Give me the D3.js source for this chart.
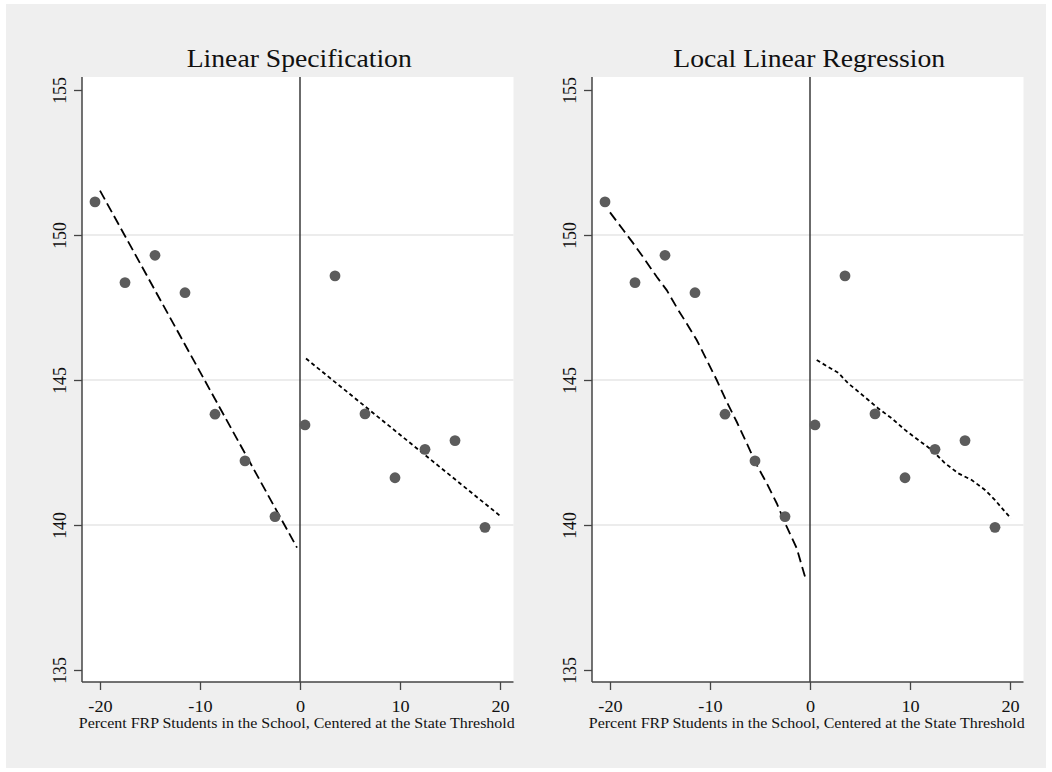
<!DOCTYPE html>
<html>
<head>
<meta charset="utf-8">
<script src="https://cdn.jsdelivr.net/npm/d3@7"></script>
<style>
  html, body { margin: 0; padding: 0; background: #ffffff; }
  svg { display: block; }
  text { font-family: "Liberation Serif", "Times New Roman", serif; fill: #111; }
</style>
</head>
<body>
<svg id="chart" width="1052" height="772"></svg>
<script>
// ---------------- DATA ----------------
const panelTitles = ["Linear Specification", "Local Linear Regression"];
const xAxisTitle = "Percent FRP Students in the School, Centered at the State Threshold";
const xTickValues = [-20, -10, 0, 10, 20];
const xTickLabels = ["-20", "-10", "0", "10", "20"];
const yTickValues = [135, 140, 145, 150, 155];
const yTickLabels = ["135", "140", "145", "150", "155"];
const gridValues = [140, 145, 150];

// binned means (same in both panels)
const binX = [-20.5, -17.5, -14.5, -11.5, -8.5, -5.5, -2.5, 0.5, 3.5, 6.5, 9.5, 12.5, 15.5, 18.5];
const binY = [151.14, 148.36, 149.30, 148.01, 143.82, 142.21, 140.29, 143.45, 148.59, 143.83, 141.63, 142.61, 142.91, 139.92];

// linear specification fits
const linLeftX = [-20, -0.3];
const linLeftY = [151.53, 139.22];
const linRightX = [0.6, 20.1];
const linRightY = [145.74, 140.29];

// local linear regression fits
const llrLeftX = [-20, -18.67, -17.67, -16.67, -15.33, -14.33, -13.17, -12.33, -11.33, -10.33, -9.33, -8.33, -7.33, -6.33, -5.33, -4.33, -3.33, -2.33, -1.33, -0.4];
const llrLeftY = [150.78, 150.17, 149.71, 149.23, 148.56, 148.10, 147.41, 146.95, 146.38, 145.69, 145.00, 144.25, 143.56, 142.82, 142.07, 141.44, 140.75, 139.94, 139.20, 138.10];
const llrRightX = [0.67, 1.67, 2.83, 3.83, 4.83, 5.83, 6.83, 8.17, 9.5, 10.83, 12.17, 13.5, 14.83, 16.17, 17.5, 18.5, 19.5, 20.1];
const llrRightY = [145.69, 145.48, 145.25, 144.88, 144.60, 144.31, 144.02, 143.68, 143.28, 142.93, 142.59, 142.13, 141.78, 141.55, 141.21, 140.86, 140.46, 140.23];

// ---------------- LAYOUT ----------------
const svg = d3.select("#chart");
const W = 1052, H = 772;
svg.append("rect").attr("x", 6).attr("y", 4).attr("width", W - 12).attr("height", H - 8).attr("fill", "#efefef");

const plotLeft = 82, plotRight = 513.5, plotTop = 77, plotBottom = 682;
const panelOffset = 510;

const x = d3.scaleLinear().domain([-21.8, 21.35]).range([plotLeft, plotRight]);
const y = d3.scaleLinear().domain([135, 155]).range([670, 90]);

function fitWidth(sel, factor) {
  sel.each(function () {
    const len = this.getComputedTextLength();
    d3.select(this).attr("textLength", len * factor).attr("lengthAdjust", "spacingAndGlyphs");
  });
}

const fits = [
  [{xs: linLeftX, ys: linLeftY, dash: "10,4.5"}, {xs: linRightX, ys: linRightY, dash: "4,3"}],
  [{xs: llrLeftX, ys: llrLeftY, dash: "10,5"}, {xs: llrRightX, ys: llrRightY, dash: "4,3"}]
];

panelTitles.forEach((title, pi) => {
  const g = svg.append("g").attr("transform", `translate(${pi * panelOffset},0)`);

  // plot area
  g.append("rect")
    .attr("x", plotLeft).attr("y", plotTop)
    .attr("width", plotRight - plotLeft).attr("height", plotBottom - plotTop)
    .attr("fill", "#ffffff");

  // grid
  g.selectAll(".grid").data(gridValues).enter().append("line")
    .attr("x1", plotLeft).attr("x2", plotRight)
    .attr("y1", d => y(d)).attr("y2", d => y(d))
    .attr("stroke", "#e6e6e6").attr("stroke-width", 1.4);

  // zero vertical line
  g.append("line")
    .attr("x1", x(0)).attr("x2", x(0))
    .attr("y1", plotTop).attr("y2", plotBottom)
    .attr("stroke", "#3a3a3a").attr("stroke-width", 1.5);

  // y axis
  const yAxis = d3.axisLeft(y).tickValues(yTickValues).tickSize(8).tickPadding(4)
    .tickFormat(d => yTickLabels[yTickValues.indexOf(d)]);
  const ya = g.append("g").attr("transform", `translate(${plotLeft},0)`).call(yAxis);
  ya.select(".domain").attr("d", `M0,${plotTop}V${plotBottom}`).attr("stroke", "#444").attr("stroke-width", 1.5);
  ya.selectAll(".tick line").attr("stroke", "#444").attr("stroke-width", 1.3);
  ya.selectAll(".tick text")
    .attr("font-size", 19)
    .attr("font-family", "Liberation Serif, serif")
    .attr("fill", "#111")
    .attr("x", 0).attr("dy", 0)
    .attr("text-anchor", "middle")
    .attr("transform", "translate(-16,0) rotate(-90)")
    .attr("textLength", 26.5).attr("lengthAdjust", "spacingAndGlyphs");

  // x axis
  const xAxis = d3.axisBottom(x).tickValues(xTickValues).tickSize(8).tickPadding(4)
    .tickFormat(d => xTickLabels[xTickValues.indexOf(d)]);
  const xa = g.append("g").attr("transform", `translate(0,${plotBottom})`).call(xAxis);
  xa.select(".domain").attr("d", `M${plotLeft},0H${plotRight}`).attr("stroke", "#444").attr("stroke-width", 1.5);
  xa.selectAll(".tick line").attr("stroke", "#444").attr("stroke-width", 1.3);
  xa.selectAll(".tick text")
    .attr("font-size", 16)
    .attr("font-family", "Liberation Serif, serif")
    .attr("fill", "#111")
    .attr("dy", 0).attr("y", 30.3)
    .call(fitWidth, 1.14);

  // axis title
  g.append("text")
    .attr("x", (plotLeft + plotRight) / 2 - 1).attr("y", 728)
    .attr("text-anchor", "middle")
    .attr("font-size", 15.5)
    .attr("textLength", 436).attr("lengthAdjust", "spacingAndGlyphs")
    .text(xAxisTitle);

  // panel title
  g.append("text")
    .attr("x", (plotLeft + plotRight) / 2 + 1.5).attr("y", 66.7)
    .attr("text-anchor", "middle")
    .attr("font-size", 26)
    .text(title)
    .call(fitWidth, 1.064);

  // fit lines
  const line = d3.line().x(d => x(d[0])).y(d => y(d[1]));
  fits[pi].forEach(f => {
    g.append("path")
      .datum(f.xs.map((v, i) => [v, f.ys[i]]))
      .attr("d", line)
      .attr("fill", "none")
      .attr("stroke", "#000")
      .attr("stroke-width", 1.8)
      .attr("stroke-dasharray", f.dash);
  });

  // points
  g.selectAll(".pt").data(binX.map((v, i) => [v, binY[i]])).enter().append("circle")
    .attr("cx", d => x(d[0])).attr("cy", d => y(d[1]))
    .attr("r", 5.4)
    .attr("fill", "#5c5c5c");
});
</script>
</body>
</html>
